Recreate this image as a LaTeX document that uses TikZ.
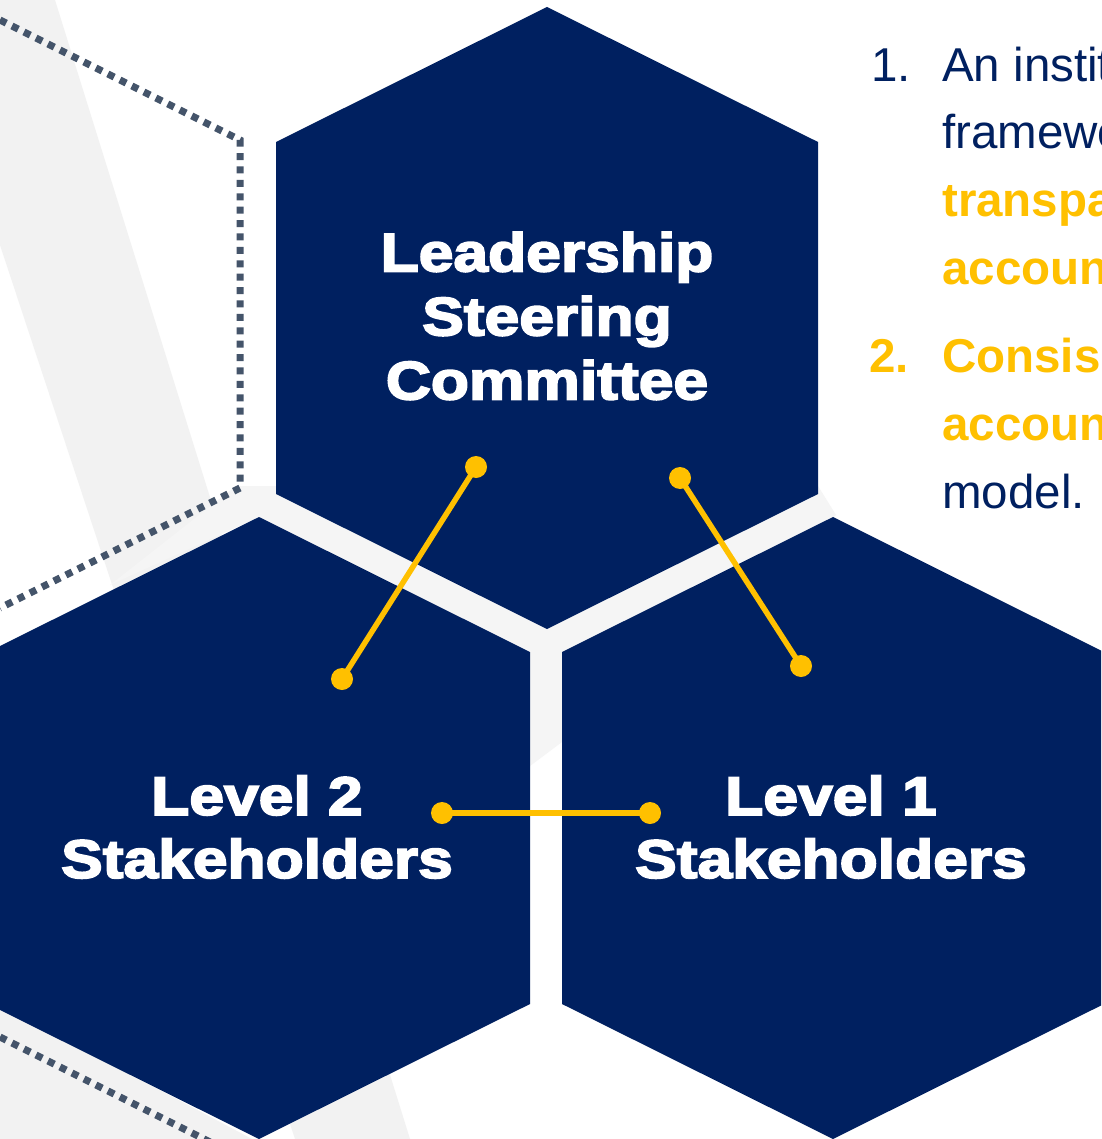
\documentclass[tikz,border=0pt]{standalone}
\usepackage{fontspec}
\setmainfont{Liberation Sans}
\newfontfamily\hexfont[FakeStretch=1.155,FakeBold=3.5]{Liberation Sans Bold}
\definecolor{navy}{HTML}{002060}
\definecolor{gold}{HTML}{FFC000}
\definecolor{dotc}{HTML}{44546A}
\definecolor{bgband}{HTML}{F2F2F2}
\definecolor{bggap}{HTML}{F5F5F5}
\tikzset{
  hexfill/.style={fill=navy},
  hexlabel/.style={text=white, inner sep=0pt, align=center},
  conn/.style={draw=gold, line width=5.5pt},
  dotend/.style={fill=gold},
  outline/.style={draw=dotc, line width=7pt, dash pattern=on 7pt off 6.4pt},
  listtxt/.style={inner sep=0pt, anchor=base west, font=\fontsize{47.5}{54}\selectfont},
  listbold/.style={listtxt, text=gold, font=\fontsize{47.5}{54}\selectfont\bfseries},
}
\begin{document}
\begin{tikzpicture}[x=1pt,y=-1pt]
\useasboundingbox (0,0) rectangle (1101,1139);
\clip (0,0) rectangle (1101,1139);
\fill[white] (0,0) rectangle (1101,1139);
% background light bands
\fill[bgband] (0,0) -- (55,0) -- (410,1139) -- (295,1139) -- (0,245) -- cycle;
\fill[bgband] (0,1005) -- (252,1139) -- (0,1139) -- cycle;
\fill[bggap] (236,486) -- (818,486) -- (836,515) -- (562,742) -- (530,766) -- (530,652) -- (259,517) -- (110,585) -- cycle;
% dotted outline
\draw[outline] (0,20) -- (240,140) -- (240,488) -- (0,608);
\draw[outline] (0,1037) -- (210,1142);
% hexagons
\fill[hexfill] (547,7) -- (818,142) -- (818,494) -- (547,629) -- (276,494) -- (276,142) -- cycle;
\fill[hexfill] (259,517) -- (530,652) -- (530,1004) -- (259,1139) -- (-12,1004) -- (-12,652) -- cycle;
\fill[hexfill] (833,517) -- (1104,652) -- (1104,1004) -- (833,1139) -- (562,1004) -- (562,652) -- cycle;
% hexagon labels
\node[hexlabel, font=\hexfont\fontsize{54}{64}\selectfont] (lead) at (547,316) {Leadership\\Steering\\Committee};
\node[hexlabel, font=\hexfont\fontsize{54}{63}\selectfont] (lvltwo) at (257,827) {Level 2\\Stakeholders};
\node[hexlabel, font=\hexfont\fontsize{54}{63}\selectfont] (lvlone) at (831,827) {Level 1\\Stakeholders};
% connectors
\coordinate (a1) at (476,467);
\coordinate (b1) at (342,679);
\coordinate (a2) at (680,478);
\coordinate (b2) at (801,666);
\coordinate (a3) at (442,813);
\coordinate (b3) at (650,813);
\draw[conn] (a1) -- (b1);
\draw[conn] (a2) -- (b2);
\draw[conn] (a3) -- (b3);
\foreach \p in {a1,b1,a2,b2,a3,b3} \fill[dotend] (\p) circle (11pt);
% right-hand list
\node[listtxt, text=navy] (n1) at (871,82) {1.};
\node[listtxt, text=navy] (t1) at (942,82) {An instit};
\node[listtxt, text=navy] (t2) at (942,149) {framewo};
\node[listbold] (t3) at (942,217) {transpa};
\node[listbold] (t4) at (942,285) {accoun};
\node[listbold] (n2) at (869,372) {2.};
\node[listbold] (t5) at (942,372) {Consis};
\node[listbold] (t6) at (942,440) {accoun};
\node[listtxt, text=navy] (t7) at (942,508) {model.};
\end{tikzpicture}
\end{document}
